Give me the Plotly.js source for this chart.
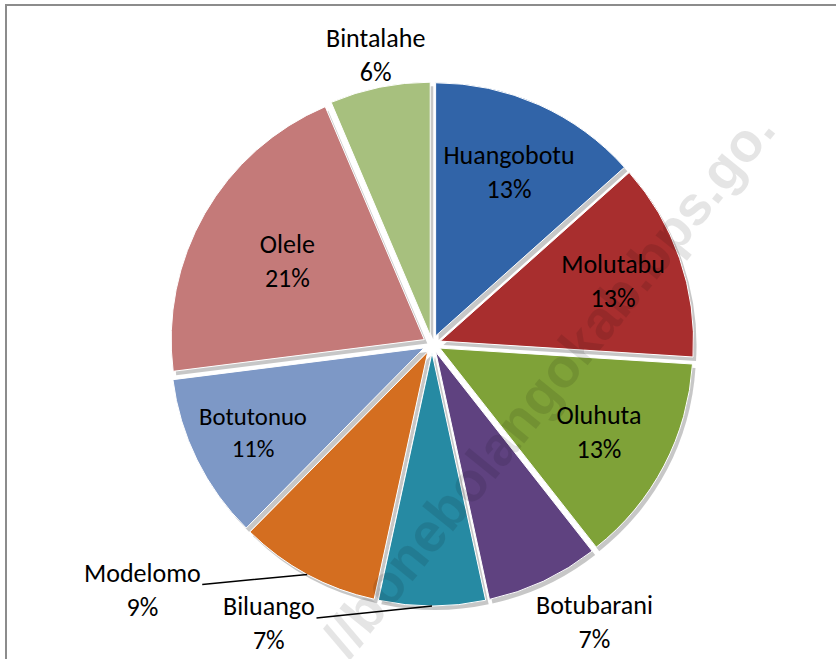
<!DOCTYPE html>
<html>
<head>
<meta charset="utf-8">
<script src="https://cdn.plot.ly/plotly-3.0.1.min.js"></script>
<style>html,body{margin:0;padding:0;background:#fff;}#chart{width:836px;height:659px;}</style>
</head>
<body>
<div id="chart"></div>
<script>
// ---- data ----
const labels = ["Huangobotu","Molutabu","Oluhuta","Botubarani","Biluango","Modelomo","Botutonuo","Olele","Bintalahe"];
const values = [13.4, 12.6, 13.4, 7.2, 6.8, 9.0, 10.6, 20.6, 6.4];
const colors = ["#3164a8","#a82e2e","#7fa238","#5f4280","#268aa3","#d46e20","#7d98c6","#c47a79","#a7c07e"];
const outsideLabels = ["Botubarani","Biluango","Modelomo","Bintalahe"];

// ---- style / layout ----
const FONT = "Calibri, Carlito, Lato, 'Open Sans', sans-serif";
const W = 836, H = 659;
const cx = 432, cy = 344, R = 262;
const PULL = 0.035;
// text offsets (px) of outside labels from the outer edge of their slice
const labelOffset = {
  Bintalahe:  {ax: -4,   ay: -32, line: false},
  Botubarani: {ax: 51,   ay: 41,  line: false},
  Biluango:   {ax: -163, ay: 17,  line: true},
  Modelomo:   {ax: -165, ay: 16,  line: true}
};

const dom = (dx, dy) => ({
  x: [(cx - R + dx) / W, (cx + R + dx) / W],
  y: [(H - cy - R - dy) / H, (H - cy + R - dy) / H]
});

const total = values.reduce((a, b) => a + b, 0);
const pctText = v => Math.round(v / total * 100) + "%";

const shadow = {
  type: "pie",
  labels: labels, values: values,
  sort: false, direction: "clockwise", rotation: 0,
  pull: labels.map(() => PULL),
  domain: dom(3, 4),
  marker: {colors: labels.map(() => "rgba(0,0,0,0.22)"), line: {width: 0}},
  textinfo: "none", hoverinfo: "skip", showlegend: false
};

const pie = {
  type: "pie",
  labels: labels, values: values,
  sort: false, direction: "clockwise", rotation: 0,
  pull: labels.map(() => PULL),
  domain: dom(0, 0),
  marker: {colors: colors, line: {color: "#ffffff", width: 1}},
  texttemplate: "%{label}<br>%{percent:.0%}",
  textposition: labels.map(l => outsideLabels.includes(l) ? "none" : "inside"),
  insidetextorientation: "horizontal",
  insidetextfont: {family: FONT, size: 26, color: "#000000"},
  automargin: false, showlegend: false,
  hoverinfo: "label+percent"
};

// outside labels: anchored on the outer edge of each slice's bisector
const annotations = [];
let cum = 0;
labels.forEach((l, i) => {
  const mid = (cum + values[i] / 2) / total * 2 * Math.PI;
  cum += values[i];
  if (!outsideLabels.includes(l)) return;
  const px = cx + R * Math.sin(mid), py = cy - R * Math.cos(mid);
  const o = labelOffset[l];
  annotations.push({
    text: l + "<br>" + pctText(values[i]),
    xref: "paper", yref: "paper",
    x: px / W, y: 1 - py / H,
    ax: o.ax, ay: o.ay, axref: "pixel", ayref: "pixel",
    showarrow: true, arrowhead: 0, arrowwidth: 1.5, standoff: 0, startstandoff: 0,
    arrowcolor: o.line ? "#000000" : "rgba(0,0,0,0)",
    font: {family: FONT, size: 26, color: "#000000"}
  });
});

annotations.unshift({
  text: "//bonebolangokab.bps.go.",
  xref: "paper", yref: "paper",
  x: 548 / W, y: 1 - 384 / H,
  showarrow: false, textangle: -51,
  font: {family: "'Liberation Sans', Arial, sans-serif", size: 55, color: "rgba(0,0,0,0.1)", weight: "bold"}
});

const layout = {
  width: W, height: H,
  margin: {l: 0, r: 0, t: 0, b: 0},
  paper_bgcolor: "#ffffff",
  showlegend: false,
  shapes: [{
    type: "rect", xref: "paper", yref: "paper",
    x0: 6 / W, x1: 1.2, y0: -0.2, y1: 1 - 5 / H,
    line: {color: "#8c8c8c", width: 2}
  }],
  annotations: annotations
};

Plotly.newPlot("chart", [shadow, pie], layout, {staticPlot: true, displayModeBar: false});
</script>
</body>
</html>
